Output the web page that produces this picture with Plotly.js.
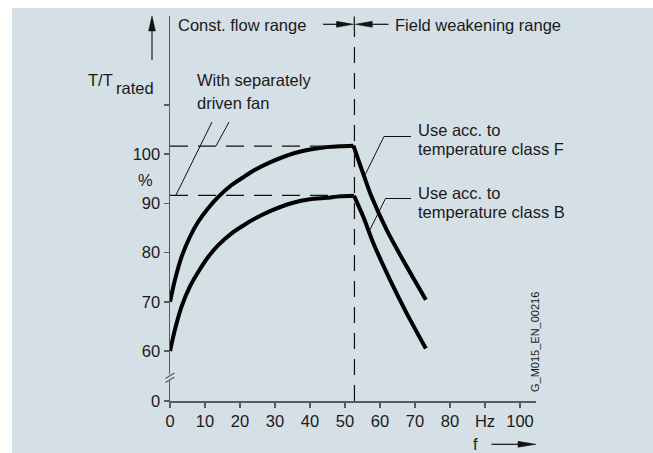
<!DOCTYPE html>
<html>
<head>
<meta charset="utf-8">
<script src="https://cdn.plot.ly/plotly-3.0.1.min.js"></script>
<style>html,body{margin:0;padding:0;background:#fff;}#chart{width:653px;height:453px;}</style>
</head>
<body>
<div id="chart"></div>
<script>
// Frequency (Hz) and torque (% of rated)
const freqF = [0, 1.4, 3.3, 5.7, 8.1, 10.9, 13.8, 17.6, 21.4, 24.3, 28.6, 35.2, 40, 44.8, 48.5, 52.4, 54.8, 57.6, 61.9, 67.1, 73.1];
const torqueF = [70, 74.4, 79.1, 83.2, 86.3, 89.0, 91.3, 93.7, 95.5, 96.8, 98.3, 100.1, 100.9, 101.4, 101.6, 101.7, 96.8, 91.3, 84.6, 77.8, 70.4];
const freqB = [0, 1.4, 3.3, 5.7, 8.1, 10.9, 13.8, 17.6, 21.4, 24.3, 28.6, 35.2, 40, 44.8, 48.5, 52.6, 55.2, 58.1, 62.9, 67.6, 73.1];
const torqueB = [60, 64.3, 69.0, 73.1, 76.1, 79.1, 81.5, 83.9, 85.7, 86.9, 88.4, 90.1, 90.8, 91.1, 91.4, 91.5, 87.3, 81.9, 74.4, 67.7, 60.5];
const cornerIndex = 15;    // last point of the constant-flux range
const levelF = 101.6;      // dashed reference level (class F)
const levelB = 91.6;       // dashed reference level (class B)
const fieldWeakStart = 52.7; // Hz, boundary between ranges
const xTickVals = [0, 10, 20, 30, 40, 50, 60, 70, 80, 90, 100];
const xTickText = ['0', '10', '20', '30', '40', '50', '60', '70', '80', 'Hz', '100'];
const yTickVals = [49.85, 60, 70, 80, 90, 100, 110];
const yTickText = ['0', '60', '70', '80', '90', '100', ' '];

const FONT = 'Liberation Sans, Arial, Helvetica, sans-serif';
const FS = 16.5;
const TXT = '#1a1a1a';
const AX = '#5a5a5a';
const BG = '#d5dfe6';
// plot area in pixels
const L = 170, T = 16, W = 366, H = 385;
const px = x => (x - L) / W;
const py = y => (T + H - y) / H;

function seg(x0, y0, x1, y1, w, c) {
  return {type: 'line', xref: 'paper', yref: 'paper', x0: px(x0), y0: py(y0), x1: px(x1), y1: py(y1),
          line: {color: c || '#111', width: w || 1}};
}
function tri(pts) {
  const d = 'M ' + pts.map(p => px(p[0]) + ' ' + py(p[1])).join(' L ') + ' Z';
  return {type: 'path', xref: 'paper', yref: 'paper', path: d, fillcolor: '#111', line: {color: '#111', width: 0.5}};
}
function label(text, x, y, opts) {
  return Object.assign({xref: 'paper', yref: 'paper', x: px(x), y: py(y), text: text, showarrow: false,
    xanchor: 'left', yanchor: 'middle', font: {family: FONT, size: FS, color: TXT}}, opts || {});
}
function curve(xs, ys) {
  const line = {color: '#000', width: 4, shape: 'spline', smoothing: 0.7};
  return [
    {x: xs.slice(0, cornerIndex + 1), y: ys.slice(0, cornerIndex + 1), type: 'scatter', mode: 'lines', line: line, hoverinfo: 'skip'},
    {x: xs.slice(cornerIndex), y: ys.slice(cornerIndex), type: 'scatter', mode: 'lines', line: line, hoverinfo: 'skip'}
  ];
}

const traces = [].concat(curve(freqF, torqueF), curve(freqB, torqueB));

const shapes = [
  {type: 'rect', xref: 'paper', yref: 'paper', x0: px(12), x1: px(660), y0: py(460), y1: py(8),
   fillcolor: BG, line: {width: 0}, layer: 'below'},
  // dashed levels
  {type: 'line', xref: 'x', yref: 'y', x0: 0, x1: freqF[cornerIndex], y0: levelF, y1: levelF, line: {color: '#111', width: 1.2, dash: '18px,10px'}},
  {type: 'line', xref: 'x', yref: 'y', x0: 0, x1: freqB[cornerIndex], y0: levelB, y1: levelB, line: {color: '#111', width: 1.2, dash: '18px,10px'}},
  // vertical boundary
  {type: 'line', xref: 'x', yref: 'paper', x0: fieldWeakStart, x1: fieldWeakStart, y0: 0, y1: py(30), line: {color: '#111', width: 1.2, dash: '16px,10px'}},
  seg(354.3, 16.5, 354.3, 30, 1.2),
  // range arrows at top
  seg(323, 24.3, 338, 24.3, 1.2),
  tri([[353.5, 24.3], [336.5, 21.3], [336.5, 27.3]]),
  tri([[355.3, 24.3], [372.3, 21.3], [372.3, 27.3]]),
  seg(371, 24.3, 388.5, 24.3, 1.2),
  // y arrow
  seg(152, 60, 152, 30, 1.5, '#444'),
  tri([[152, 16], [148.6, 31], [155.4, 31]]),
  // f arrow
  seg(491.5, 444.3, 519, 444.3, 1.2),
  tri([[536, 444.3], [518, 441.3], [518, 447.3]]),
  // fan leaders
  seg(176, 195, 212, 122, 1),
  seg(216, 146, 229, 122, 1),
  // class leaders
  seg(365, 175, 384, 136.5, 1),
  seg(384, 136.5, 411, 136.5, 1),
  seg(368.3, 233, 385.5, 198.5, 1),
  seg(385.5, 198.5, 411, 198.5, 1),
  // axis break
  {type: 'rect', xref: 'paper', yref: 'paper', x0: px(168), x1: px(172), y0: py(380.5), y1: py(374.5), fillcolor: BG, line: {width: 0}},
  seg(165.5, 378.5, 174.5, 373, 1.2, AX),
  seg(165.5, 382.5, 174.5, 377, 1.2, AX)
];

const annotations = [
  label('Const. flow range', 176, 25),
  label('Field weakening range', 393, 25),
  label('T/T', 115, 80, {xanchor: 'right'}),
  label('rated', 114, 88),
  label('With separately', 195, 80),
  label('driven fan', 195, 103),
  label('%', 145, 180, {xanchor: 'center'}),
  label('Use acc. to', 416, 130),
  label('temperature class F', 416, 149),
  label('Use acc. to', 416, 193),
  label('temperature class B', 416, 212),
  label('f', 475, 444, {xanchor: 'center'}),
  label('G_M015_EN_00216', 535, 342, {xanchor: 'center', textangle: -90, font: {family: FONT, size: 11, color: TXT}})
];

const layout = {
  width: 653, height: 453,
  margin: {l: L, r: 653 - L - W, t: T, b: 453 - T - H, pad: 0},
  paper_bgcolor: '#ffffff',
  plot_bgcolor: 'rgba(0,0,0,0)',
  showlegend: false,
  xaxis: {range: [0, W / 3.5], showgrid: false, zeroline: false, showline: true, linecolor: AX, linewidth: 1.5,
          ticks: 'outside', ticklen: 5, tickwidth: 1.5, tickcolor: AX, tickvals: xTickVals, ticktext: xTickText,
          tickfont: {family: FONT, size: FS, color: TXT}, fixedrange: true},
  yaxis: {range: [49.85, 49.85 + H / 4.925], showgrid: false, zeroline: false, showline: true, linecolor: AX, linewidth: 1.5,
          ticks: 'outside', ticklen: 5, tickwidth: 1.5, tickcolor: AX, tickvals: yTickVals, ticktext: yTickText,
          tickfont: {family: FONT, size: FS, color: TXT}, fixedrange: true},
  shapes: shapes,
  annotations: annotations
};

Plotly.newPlot('chart', traces, layout, {displayModeBar: false, staticPlot: true});
</script>
</body>
</html>
